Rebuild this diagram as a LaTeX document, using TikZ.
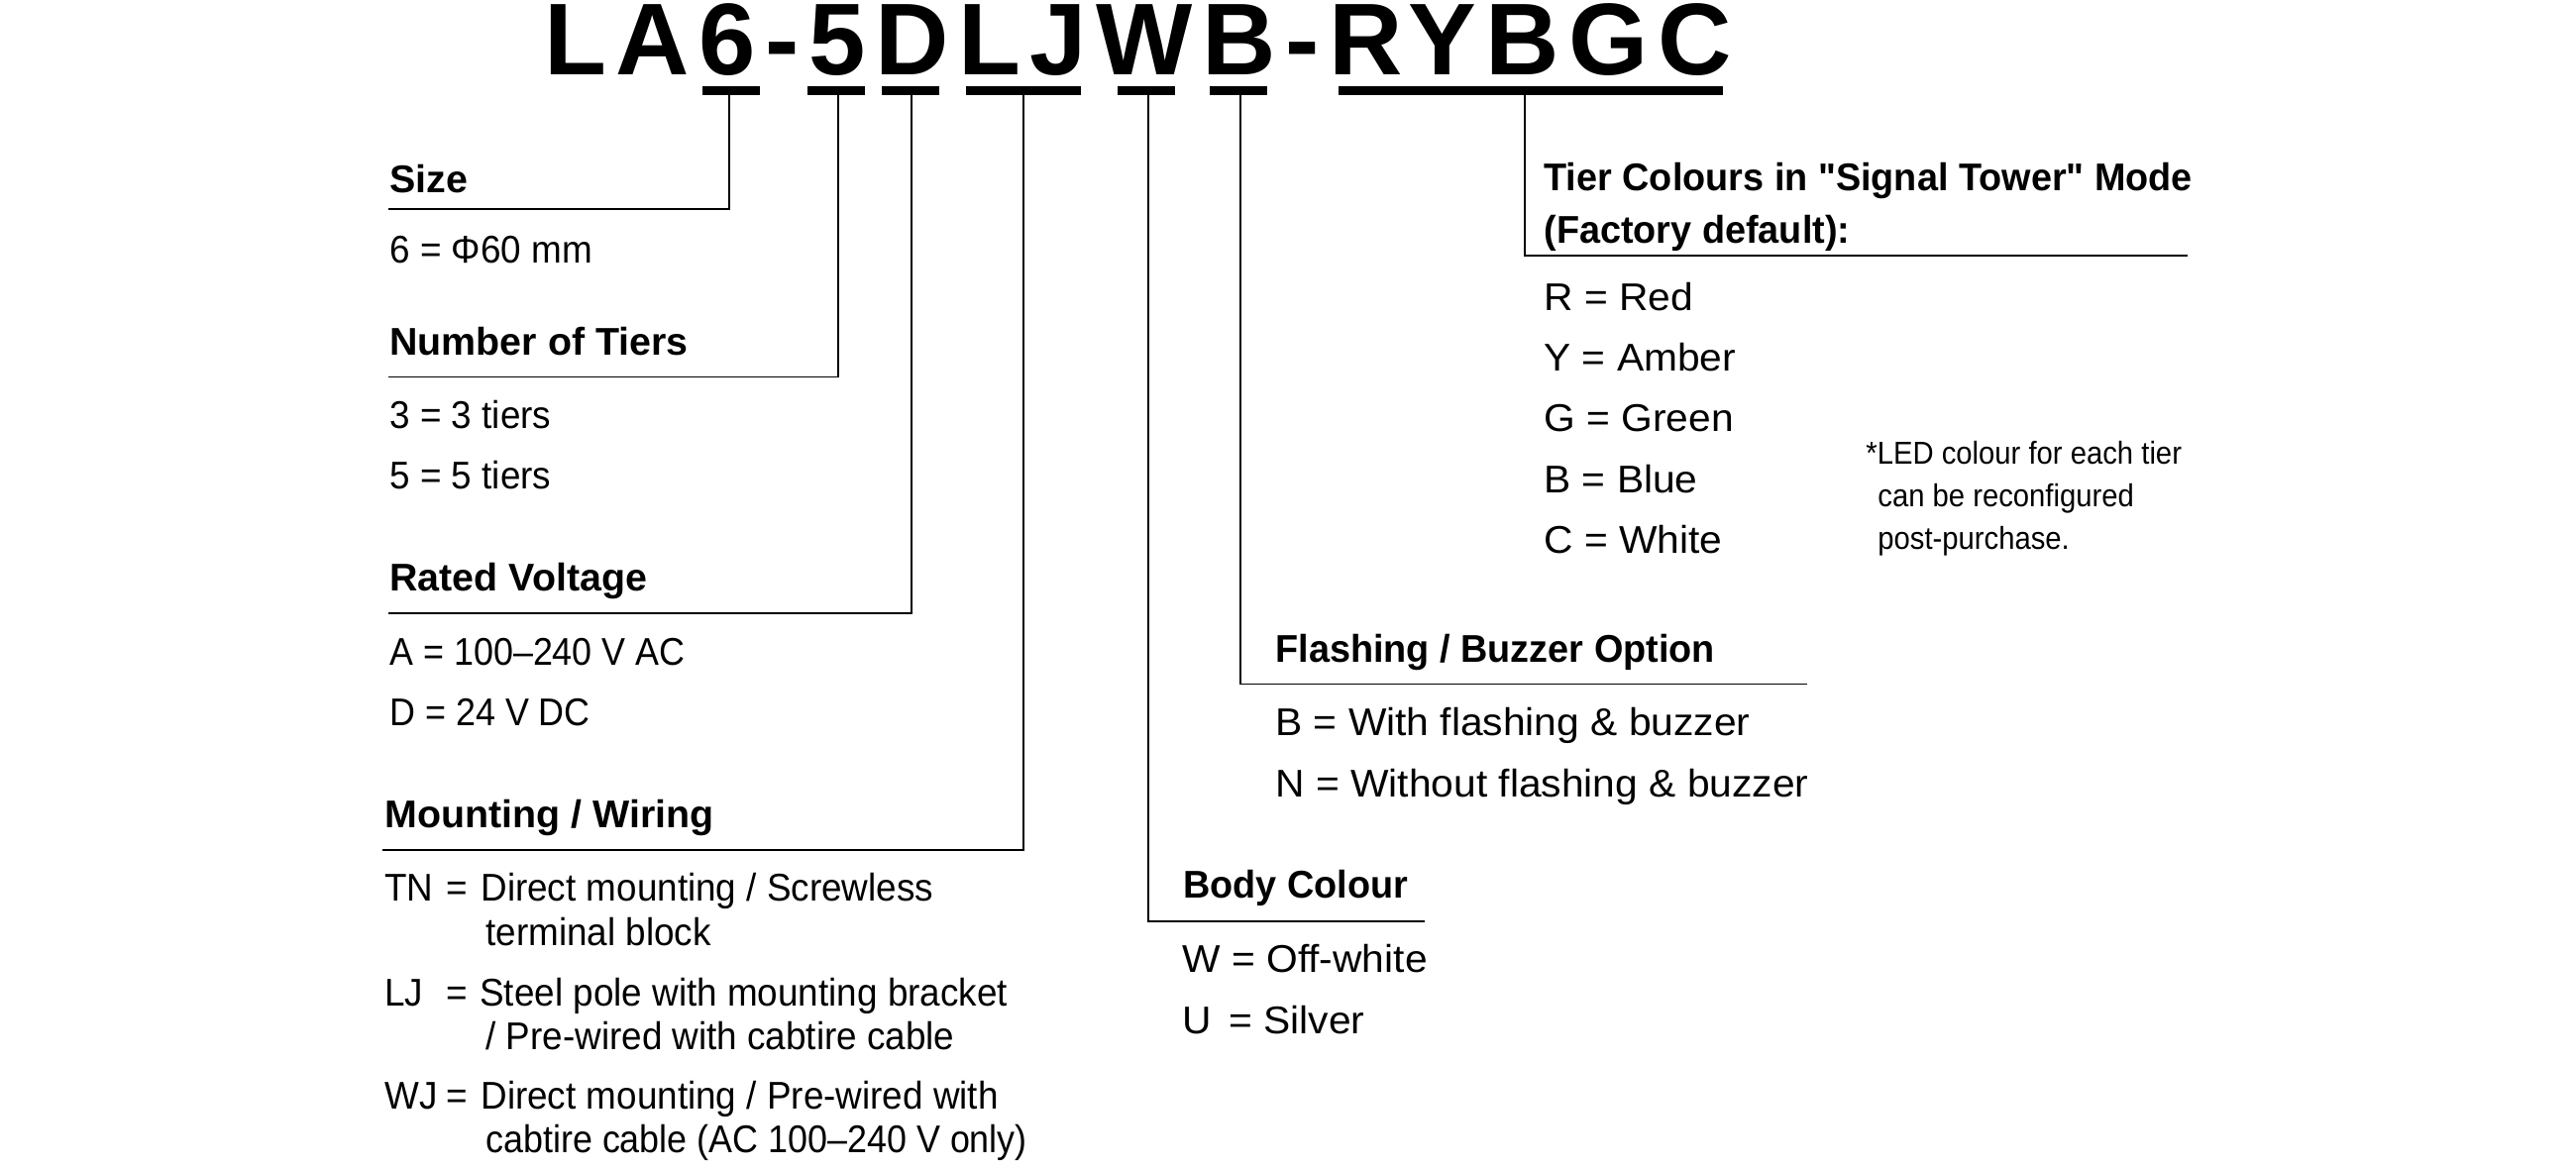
\documentclass[tikz,border=0pt]{standalone}
\usepackage{fontspec}
\setmainfont{Liberation Sans}
\newfontfamily\leftfam[FakeStretch=0.945]{Liberation Sans}
\newfontfamily\narrowfam[FakeStretch=0.92]{Liberation Sans}
\newfontfamily\rightfam[FakeStretch=1.045]{Liberation Sans}
\newfontfamily\headfam[FakeStretch=1.01]{Liberation Sans Bold}
\newfontfamily\headrfam[FakeStretch=0.97]{Liberation Sans Bold}
\newfontfamily\notefam[FakeStretch=0.914]{Liberation Sans}
\newfontfamily\codefam[LetterSpace=9.3]{Liberation Sans Bold}
\tikzset{
  codebar/.style={fill=black,inner sep=0pt,minimum height=4.5pt},
  leader/.style={draw=black,line width=0.8pt},
  headtxt/.style={anchor=base west,inner sep=0pt,font=\headfam\fontsize{19.5}{20}\selectfont},
  headrtxt/.style={anchor=base west,inner sep=0pt,font=\headrfam\fontsize{19.5}{20}\selectfont},
  lefttxt/.style={anchor=base west,inner sep=0pt,font=\leftfam\fontsize{19.5}{20}\selectfont},
  narrowtxt/.style={anchor=base west,inner sep=0pt,font=\narrowfam\fontsize{19.5}{20}\selectfont},
  righttxt/.style={anchor=base west,inner sep=0pt,font=\rightfam\fontsize{19.5}{20}\selectfont},
  notetxt/.style={anchor=base west,inner sep=0pt,font=\notefam\fontsize{16}{18}\selectfont}
}
\begin{document}
\begin{tikzpicture}[x=0.5pt,y=-0.5pt]
  \useasboundingbox (0,0) rectangle (2600,1180);

  % Codigo
  \node[anchor=base west,inner sep=0pt,font=\codefam\fontsize{51.5}{52}\selectfont] (code) at (549,75.5) {LA6-5DLJWB-RYBGC};

  % Barras
  \node[codebar,minimum width=29pt] (barsize) at (738,91.5) {};
  \node[codebar,minimum width=29pt] (bartiers) at (844,91.5) {};
  \node[codebar,minimum width=29pt] (barvolt) at (919,91.5) {};
  \node[codebar,minimum width=58pt] (barmount) at (1033,91.5) {};
  \node[codebar,minimum width=29pt] (barbody) at (1157,91.5) {};
  \node[codebar,minimum width=29pt] (barflash) at (1250,91.5) {};
  \node[codebar,minimum width=194pt] (barcolour) at (1545,91.5) {};

  % Size
  \node[headtxt] (sizehead) at (393,194) {Size};
  \coordinate (sizeend) at (392,211);
  \coordinate (sizeknee) at (736,211);
  \draw[leader] (barsize.south -| sizeknee) -- (sizeknee) -- (sizeend);
  \node[lefttxt] (size6) at (393,265) {6 = Φ60 mm};

  % Number of Tiers
  \node[headtxt] (tiershead) at (393,358) {Number of Tiers};
  \coordinate (tiersend) at (392,380.5);
  \coordinate (tiersknee) at (846,380.5);
  \draw[leader] (bartiers.south -| tiersknee) -- (tiersknee) -- (tiersend);
  \node[lefttxt] (tiers3) at (393,432.5) {3 = 3 tiers};
  \node[lefttxt] (tiers5) at (393,493.5) {5 = 5 tiers};

  % Rated Voltage
  \node[headtxt] (volthead) at (393,596.5) {Rated Voltage};
  \coordinate (voltend) at (392,619);
  \coordinate (voltknee) at (920,619);
  \draw[leader] (barvolt.south -| voltknee) -- (voltknee) -- (voltend);
  \node[narrowtxt] (volta) at (393,671.5) {A = 100–240 V AC};
  \node[narrowtxt] (voltd) at (393,732.5) {D = 24 V DC};

  % Mounting / Wiring
  \node[headtxt] (mounthead) at (388,835) {Mounting / Wiring};
  \coordinate (mountend) at (386,858);
  \coordinate (mountknee) at (1033,858);
  \draw[leader] (barmount.south -| mountknee) -- (mountknee) -- (mountend);
  \node[lefttxt] (tnkey) at (388,909) {TN};
  \node[lefttxt] (tneq) at (450,909) {=};
  \node[lefttxt] (tnone) at (485,909) {Direct mounting / Screwless};
  \node[lefttxt] (tntwo) at (490,954) {terminal block};
  \node[lefttxt] (ljkey) at (388,1015) {LJ};
  \node[lefttxt] (ljeq) at (450,1015) {=};
  \node[lefttxt] (ljone) at (484,1015) {Steel pole with mounting bracket};
  \node[lefttxt] (ljtwo) at (490,1059) {/ Pre-wired with cabtire cable};
  \node[lefttxt] (wjkey) at (388,1119) {WJ};
  \node[lefttxt] (wjeq) at (450,1119) {=};
  \node[lefttxt] (wjone) at (485,1119) {Direct mounting / Pre-wired with};
  \node[narrowtxt] (wjtwo) at (490,1163) {cabtire cable (AC 100–240 V only)};

  % Body Colour
  \node[headrtxt] (bodyhead) at (1194,906) {Body Colour};
  \coordinate (bodyend) at (1438,930);
  \coordinate (bodyknee) at (1159,930);
  \draw[leader] (barbody.south -| bodyknee) -- (bodyknee) -- (bodyend);
  \node[righttxt] (bodyw) at (1193,981.5) {W = Off-white};
  \node[righttxt] (bodyukey) at (1193,1043.5) {U};
  \node[righttxt] (bodyu) at (1240,1043.5) {= Silver};

  % Flashing / Buzzer Option
  \node[headrtxt] (flashhead) at (1287,668) {Flashing / Buzzer Option};
  \coordinate (flashend) at (1824,690.5);
  \coordinate (flashknee) at (1252,690.5);
  \draw[leader] (barflash.south -| flashknee) -- (flashknee) -- (flashend);
  \node[righttxt] (flashb) at (1287,742.5) {B = With flashing \& buzzer};
  \node[righttxt] (flashn) at (1287,804.5) {N = Without flashing \& buzzer};

  % Tier Colours
  \node[headrtxt] (colourhead) at (1558,192) {Tier Colours in "Signal Tower" Mode};
  \node[headrtxt] (colourheadb) at (1558,245) {(Factory default):};
  \coordinate (colourend) at (2208,258);
  \coordinate (colourknee) at (1539,258);
  \draw[leader] (barcolour.south -| colourknee) -- (colourknee) -- (colourend);
  \node[righttxt] (colourr) at (1558,313.5) {R = Red};
  \node[righttxt] (coloury) at (1558,374.5) {Y = Amber};
  \node[righttxt] (colourg) at (1558,435.5) {G = Green};
  \node[righttxt] (colourb) at (1558,497.5) {B = Blue};
  \node[righttxt] (colourc) at (1558,558.5) {C = White};

  % Nota
  \node[notetxt] (notea) at (1883,468) {*LED colour for each tier};
  \node[notetxt] (noteb) at (1895,511) {can be reconfigured};
  \node[notetxt] (notec) at (1895,554) {post-purchase.};
\end{tikzpicture}
\end{document}
